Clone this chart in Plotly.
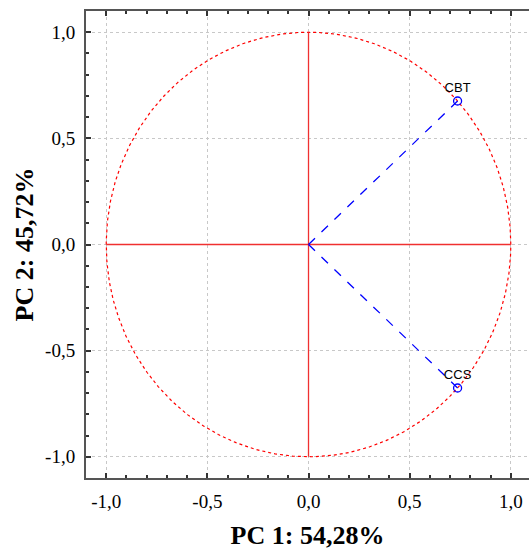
import numpy as np
import plotly.graph_objects as go

variables = ["CBT", "CCS"]
pc1_loadings = [0.737, 0.737]
pc2_loadings = [0.676, -0.676]
tick_vals = [-1.0, -0.5, 0.0, 0.5, 1.0]
tick_text = ["-1,0", "-0,5", "0,0", "0,5", "1,0"]
x_title = "PC 1: 54,28%"
y_title = "PC 2: 45,72%"
circle_radius = 1.0

fig = go.Figure()

# correlation circle
theta = np.linspace(0, 2 * np.pi, 721)
fig.add_trace(go.Scatter(x=circle_radius * np.cos(theta), y=circle_radius * np.sin(theta),
                         mode="lines", line=dict(color="red", width=1.2, dash="dot"),
                         hoverinfo="skip", showlegend=False))
# red cross lines
fig.add_trace(go.Scatter(x=[-circle_radius, circle_radius], y=[0, 0], mode="lines",
                         line=dict(color="#f03030", width=1.3), showlegend=False))
fig.add_trace(go.Scatter(x=[0, 0], y=[-circle_radius, circle_radius], mode="lines",
                         line=dict(color="#f03030", width=1.3), showlegend=False))
# vectors
for name, px, py in zip(variables, pc1_loadings, pc2_loadings):
    fig.add_trace(go.Scatter(x=[0, px], y=[0, py], mode="lines",
                             line=dict(color="blue", width=1.3, dash="dash"), showlegend=False))
fig.add_trace(go.Scatter(x=pc1_loadings, y=pc2_loadings, mode="markers+text",
                         text=variables, textposition="top center",
                         textfont=dict(family="Liberation Sans", size=13, color="black"),
                         marker=dict(symbol="circle-open", size=8, color="blue", line=dict(width=1.3)),
                         showlegend=False))

axis_common = dict(
    tickvals=tick_vals, ticktext=tick_text,
    ticks="inside", ticklen=5, tickwidth=1.5, tickcolor="#333",
    showline=True, linecolor="#555", linewidth=2,
    showgrid=True, gridcolor="#c8c8c8", griddash="dot", gridwidth=1,
    zeroline=False,
    ticklabelstandoff=5,
    tickfont=dict(family="Liberation Serif", size=19, color="black"),
    minor=dict(dtick=0.1, ticks="inside", ticklen=3, tickcolor="#333", showgrid=False),
)

fig.update_layout(
    width=529, height=551,
    margin=dict(l=86, r=0, t=11, b=73),
    plot_bgcolor="white", paper_bgcolor="white",
    xaxis=dict(range=[-1.1, 1.09], mirror="allticks",
               title=dict(text="<b>" + x_title + "</b>", standoff=15,
                          font=dict(family="Liberation Serif", size=26, color="black")),
               **axis_common),
    yaxis=dict(range=[-1.1, 1.1],
               title=dict(text="<b>" + y_title + "</b>", standoff=4,
                          font=dict(family="Liberation Serif", size=26, color="black")),
               **axis_common),
)

fig.write_html("out.html")
